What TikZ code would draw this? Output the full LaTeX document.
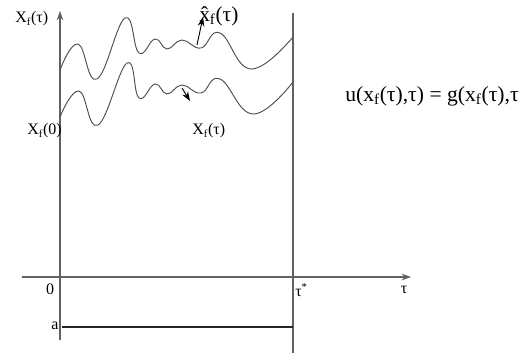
\documentclass[tikz,border=0pt]{standalone}
\usepackage{fontspec}
\setmainfont{Liberation Serif}
\usetikzlibrary{arrows.meta}
\begin{document}
\begin{tikzpicture}[x=0.75pt,y=-0.75pt,
  axis/.style={draw=black!62,line width=0.8pt},
  curve/.style={draw=black!70,line width=0.7pt},
  tip/.style={-{Stealth[length=7pt,width=5pt]}},
  lbl/.style={inner sep=0pt,font=\fontsize{12}{14}\selectfont},
  big/.style={inner sep=0pt,font=\fontsize{16}{18}\selectfont},
  eqf/.style={inner sep=0pt,font=\fontsize{16.2}{19}\selectfont}]
\useasboundingbox (0,0) rectangle (529,353);
% axes
\coordinate (ybot) at (60,340);
\coordinate (ytop) at (60,11);
\coordinate (xl) at (22,277);
\coordinate (xr) at (411,277);
\coordinate (st) at (293,13);
\coordinate (sb) at (293,353);
\coordinate (a0) at (62,327);
\coordinate (a1) at (293,327);
\draw[axis,tip] (ybot) -- (ytop);
\draw[axis,tip] (xl) -- (xr);
\draw[axis] (st) -- (sb);
\draw[line width=0.8pt,black!85] (a0) -- (a1);
% curves
\draw[curve] plot[smooth,tension=0.75] coordinates {(60,70) (78,44) (97,79) (125,18) (139,53) (155,39) (167,49) (182,40) (201,48) (220,33) (251,69) (293,37)};
\draw[curve] plot[smooth,tension=0.75] coordinates {(60,117) (79,91) (98,125) (127,63) (139,98) (155,84) (167,94) (182,85) (201,93) (220,79) (253,114) (293,82)};
% small arrows
\coordinate (u0) at (197,45);
\coordinate (u1) at (203,17);
\coordinate (l0) at (182,88);
\coordinate (l1) at (190,101);
\draw[line width=0.7pt,tip] (u0) -- (u1);
\draw[line width=0.7pt,tip] (l0) -- (l1);
% labels
\node[lbl,anchor=west] (ly) at (15,19) {X\textsubscript{f}(τ)};
\node[lbl,anchor=west] (l0lab) at (27,131) {X\textsubscript{f}(0)};
\node[lbl,anchor=west] (lx) at (192,131) {X\textsubscript{f}(τ)};
\node[big,anchor=west] (lh) at (199,16) {\^{x}\textsubscript{f}(τ)};
\node[eqf,anchor=west] (eq) at (345,96) {u(x\textsubscript{f}(τ),τ) = g(x\textsubscript{f}(τ),τ};
\node[lbl,anchor=center] (zero) at (50,289) {0};
\node[lbl,anchor=center] (la) at (55,326) {a};
\node[lbl,anchor=west] (ts) at (295,290) {τ\textsuperscript{*}};
\node[lbl,anchor=center] (tau) at (404,290) {τ};
\end{tikzpicture}
\end{document}
